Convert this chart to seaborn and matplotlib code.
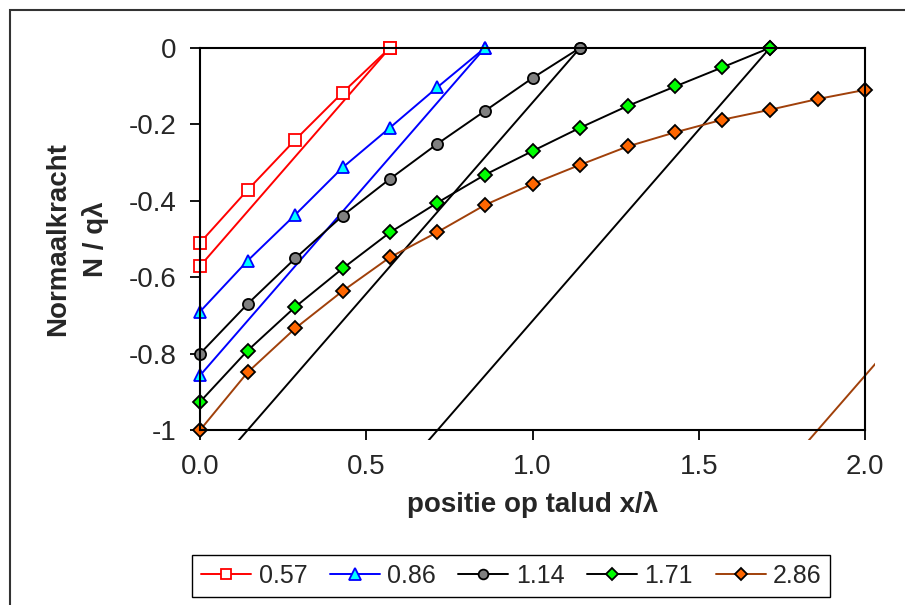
import seaborn as sns
import matplotlib.pyplot as plt
from matplotlib.lines import Line2D
from matplotlib.patches import Rectangle

sns.set_style("white")
plt.rcParams.update({
    "font.family": ["Liberation Sans", "DejaVu Sans"],
})

# legend labels (slope lengths)
labels = ["0.57", "0.86", "1.14", "1.71", "2.86"]

# computed normal force along the slope, steps of 1/7
x_057 = [0.0, 0.143, 0.286, 0.429, 0.571]
y_057 = [-0.51, -0.372, -0.241, -0.117, 0.0]

x_086 = [0.0, 0.143, 0.286, 0.429, 0.571, 0.714, 0.857]
y_086 = [-0.69, -0.557, -0.437, -0.313, -0.209, -0.103, 0.0]

x_114 = [0.0, 0.143, 0.286, 0.429, 0.571, 0.714, 0.857, 1.0, 1.143]
y_114 = [-0.80, -0.670, -0.551, -0.439, -0.343, -0.251, -0.165, -0.079, 0.0]

x_171 = [0.0, 0.143, 0.286, 0.429, 0.571, 0.714, 0.857, 1.0, 1.143,
         1.286, 1.429, 1.571, 1.714]
y_171 = [-0.926, -0.792, -0.678, -0.577, -0.483, -0.405, -0.332, -0.270,
         -0.209, -0.152, -0.101, -0.051, 0.0]

x_286 = [0.0, 0.143, 0.286, 0.429, 0.571, 0.714, 0.857, 1.0, 1.143,
         1.286, 1.429, 1.571, 1.714, 1.857, 2.0]
y_286 = [-1.0, -0.849, -0.734, -0.636, -0.548, -0.482, -0.411, -0.356,
         -0.306, -0.258, -0.221, -0.188, -0.162, -0.134, -0.110]

# simple approximation lines (straight, from (0,-L) to (L,0))
lin_x_057 = [0.0, 0.571]
lin_y_057 = [-0.571, 0.0]
lin_x_086 = [0.0, 0.857]
lin_y_086 = [-0.857, 0.0]
lin_x_114 = [0.0, 1.143]
lin_y_114 = [-1.143, 0.0]
lin_x_171 = [0.0, 1.714]
lin_y_171 = [-1.714, 0.0]
lin_x_286 = [0.0, 2.857]
lin_y_286 = [-2.857, 0.0]

xticks = [0.0, 0.5, 1.0, 1.5, 2.0]
xtick_labels = ["0.0", "0.5", "1.0", "1.5", "2.0"]
yticks = [-1.0, -0.8, -0.6, -0.4, -0.2, 0.0]
ytick_labels = ["-1", "-0.8", "-0.6", "-0.4", "-0.2", "0"]

styles = [
    dict(color="#FF0000", marker="s", markerfacecolor="white", markeredgecolor="#FF0000"),
    dict(color="#0000FF", marker="^", markerfacecolor="#00FFFF", markeredgecolor="#0000FF"),
    dict(color="black", marker="o", markerfacecolor="#808080", markeredgecolor="black"),
    dict(color="black", marker="D", markerfacecolor="#00FF00", markeredgecolor="black"),
    dict(color="#A0400A", marker="D", markerfacecolor="#FF6600", markeredgecolor="black"),
]
sizes = [8, 9, 8, 7.5, 7.5]

curves = [(x_057, y_057), (x_086, y_086), (x_114, y_114), (x_171, y_171), (x_286, y_286)]
lines = [(lin_x_057, lin_y_057), (lin_x_086, lin_y_086), (lin_x_114, lin_y_114),
         (lin_x_171, lin_y_171), (lin_x_286, lin_y_286)]

fig = plt.figure(figsize=(9.05, 6.05), dpi=100)
ax = fig.add_axes([0.221, 0.289, 0.735, 0.632])

clip = Rectangle((-0.015, -0.026), 1.03, 1.052, transform=ax.transAxes)

handles = []
for (cx, cy), (lx, ly), st, ms in zip(curves, lines, styles, sizes):
    for xs, ys in [(lx, ly), (cx, cy)]:
        sns.lineplot(x=xs, y=ys, ax=ax, estimator=None, sort=False, legend=False,
                     lw=1.4, markersize=ms, markeredgewidth=1.3, **st)
        ax.lines[-1].set_clip_path(clip)
    handles.append(Line2D([], [], lw=1.4, markersize=ms - 1, markeredgewidth=1.3, **st))

ax.set_xlim(0, 2)
ax.set_ylim(-1, 0)
ax.set_xticks(xticks)
ax.set_xticklabels(xtick_labels)
ax.set_yticks(yticks)
ax.set_yticklabels(ytick_labels)

for sp in ax.spines.values():
    sp.set_visible(True)
    sp.set_color("black")
    sp.set_linewidth(1.5)
ax.tick_params(direction="out", length=7, width=1.3, color="black",
               labelsize=20, pad=10, bottom=True, left=True)

ax.set_xlabel("positie op talud x/λ", fontsize=20, fontweight="bold", labelpad=8)
ax.set_ylabel("Normaalkracht\nN / qλ", fontsize=20, fontweight="bold")
ax.yaxis.label.set_linespacing(1.5)
ax.yaxis.set_label_coords(-0.137, 0.5)

fig.legend(handles, labels, loc="center", bbox_to_anchor=(0.565, 0.048), ncol=5,
           fontsize=18, frameon=True, fancybox=False, edgecolor="black",
           framealpha=1, handlelength=2.0, handletextpad=0.3, columnspacing=0.9,
           borderpad=0.35, numpoints=1)

# outer chart border (only left and top edges show in the crop)
fig.add_artist(Rectangle((10 / 905, -0.1), 1.2, 1 - 10 / 605 + 0.1,
                         transform=fig.transFigure, fill=False,
                         edgecolor="#333333", lw=1.5))

fig.savefig("out.png", dpi=100)
